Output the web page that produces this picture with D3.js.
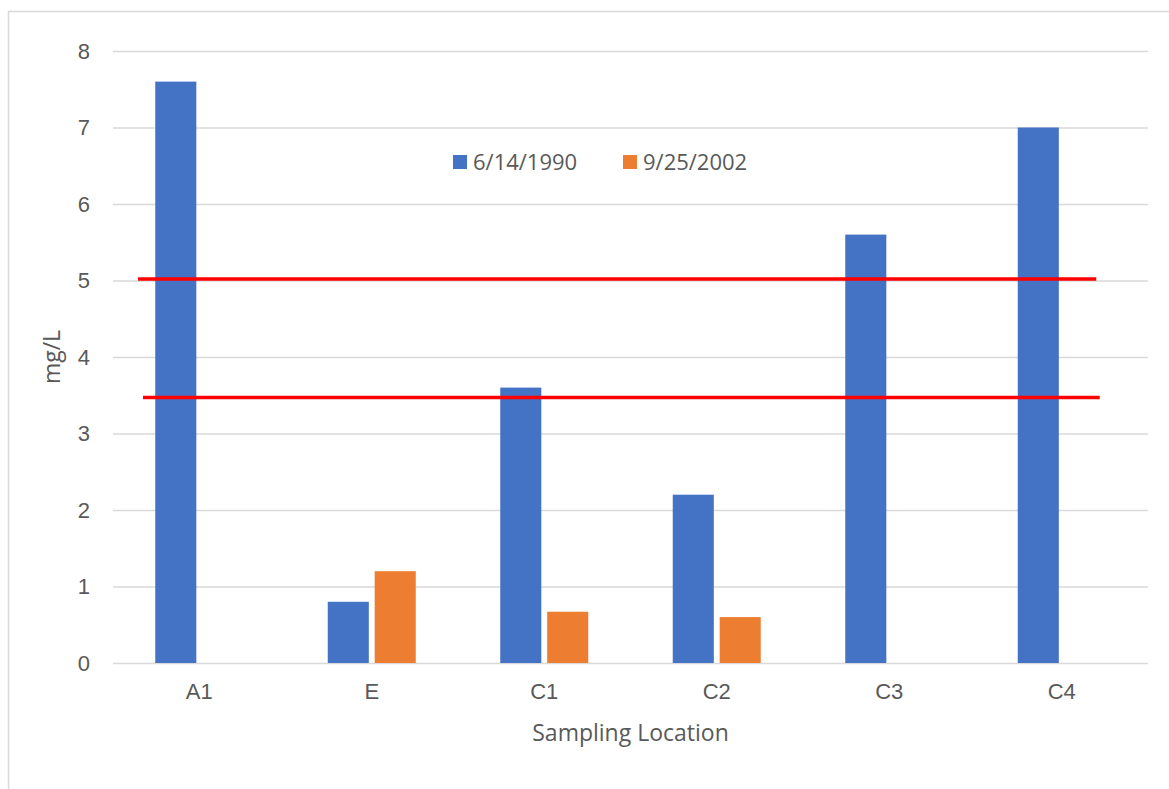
<!DOCTYPE html>
<html>
<head>
<meta charset="utf-8">
<script src="https://cdn.jsdelivr.net/npm/d3@7"></script>
<style>
  body { margin: 0; background: #fff; }
  svg { display: block; font-family: "Open Sans", sans-serif; }
</style>
</head>
<body>
<svg id="chart" width="1169" height="789"></svg>
<script>
const categories = ['A1', 'E', 'C1', 'C2', 'C3', 'C4'];
const seriesNames = ['6/14/1990', '9/25/2002'];
const values1990 = [7.6, 0.8, 3.6, 2.2, 5.6, 7.0];
const values2002 = [0, 1.2, 0.67, 0.6, 0, 0];
const yTicks = [0, 1, 2, 3, 4, 5, 6, 7, 8];
// red limit lines drawn over the plot, x given in category units
const limitValues = [5.02, 3.47];
const limitFrom = [0.145, 0.174];
const limitTo = [5.70, 5.72];

const colors = ['#4472C4', '#ED7D31'];
const textColor = '#595959';
const gridColor = '#d9d9d9';

const margin = {top: 51, right: 21, bottom: 126, left: 113};
const width = 1169;
const height = 789;

const svg = d3.select('#chart');

// frame of the chart area (only top and left show)
svg.append('path')
  .attr('d', `M8.5,${height}V11.5H${width}`)
  .attr('fill', 'none')
  .attr('stroke', gridColor)
  .attr('stroke-width', 1.5);

const x = d3.scaleBand()
  .domain(categories)
  .range([margin.left, width - margin.right]);

const xIn = d3.scaleBand()
  .domain(seriesNames)
  .range([0, 88])
  .paddingInner(0.125);

const xCat = d3.scaleLinear()
  .domain([0, categories.length])
  .range(x.range());

const y = d3.scaleLinear()
  .domain([0, 8])
  .range([height - margin.bottom, margin.top]);

const yAxis = g => g
  .attr('transform', `translate(${margin.left},0)`)
  .call(d3.axisLeft(y).tickValues(yTicks)
    .tickSize(-(width - margin.left - margin.right)).tickPadding(23))
  .call(g => g.select('.domain').remove())
  .call(g => g.selectAll('.tick line')
    .attr('stroke', gridColor).attr('stroke-width', 1.5))
  .call(g => g.selectAll('.tick text')
    .attr('fill', textColor).attr('font-size', 22));

const xAxis = g => g
  .attr('transform', `translate(0,${height - margin.bottom})`)
  .call(d3.axisBottom(x).tickSize(0).tickPadding(20))
  .call(g => g.select('.domain').remove())
  .call(g => g.selectAll('.tick text')
    .attr('fill', textColor).attr('font-size', 22));

svg.append('g').call(yAxis);
svg.append('g').call(xAxis);

const series = [values1990, values2002];

const groups = svg.append('g')
  .selectAll('g')
  .data(categories)
  .join('g')
    .attr('transform', d => `translate(${x(d) + (x.bandwidth() - 88) / 2},0)`);

groups.selectAll('rect')
  .data((d, i) => seriesNames.map((s, j) => ({s, j, v: series[j][i]})))
  .join('rect')
    .filter(d => d.v > 0)
    .attr('x', d => xIn(d.s))
    .attr('width', xIn.bandwidth())
    .attr('y', d => y(d.v))
    .attr('height', d => y(0) - y(d.v))
    .attr('fill', d => colors[d.j]);

// limit lines
svg.append('g')
  .selectAll('line')
  .data(limitValues)
  .join('line')
    .attr('x1', (d, i) => xCat(limitFrom[i]))
    .attr('x2', (d, i) => xCat(limitTo[i]))
    .attr('y1', d => y(d))
    .attr('y2', d => y(d))
    .attr('stroke', '#ff0000')
    .attr('stroke-width', 3.5);

// legend
const legend = svg.append('g')
  .selectAll('g')
  .data(seriesNames)
  .join('g')
    .attr('transform', (d, i) => `translate(${453 + i * 170},155)`);

legend.append('rect')
  .attr('width', 14)
  .attr('height', 14)
  .attr('fill', (d, i) => colors[i]);

legend.append('text')
  .attr('x', 20)
  .attr('y', 7)
  .attr('dy', '0.35em')
  .attr('fill', textColor)
  .attr('font-size', 22)
  .text(d => d);

// axis titles
svg.append('text')
  .attr('x', (margin.left + width - margin.right) / 2)
  .attr('y', 741)
  .attr('text-anchor', 'middle')
  .attr('fill', textColor)
  .attr('font-size', 23)
  .text('Sampling Location');

svg.append('text')
  .attr('transform', `translate(52,${(margin.top + height - margin.bottom) / 2}) rotate(-90)`)
  .attr('text-anchor', 'middle')
  .attr('dy', '0.35em')
  .attr('fill', textColor)
  .attr('font-size', 23)
  .text('mg/L');
</script>
</body>
</html>
